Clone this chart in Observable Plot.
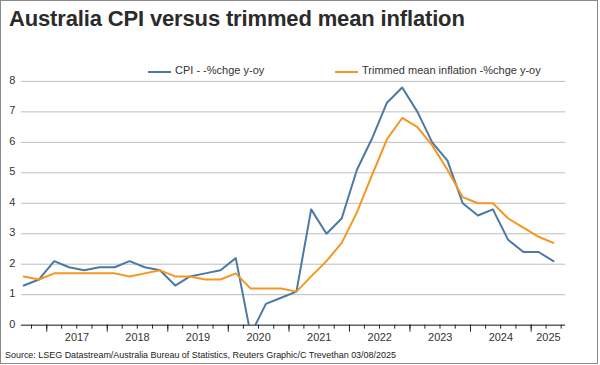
<!DOCTYPE html>
<html>
<head>
<meta charset="utf-8">
<script src="https://cdn.jsdelivr.net/npm/d3@7"></script>
<script src="https://cdn.jsdelivr.net/npm/@observablehq/plot@0.6"></script>
<style>
  html, body { margin: 0; padding: 0; background: #fff; }
  #wrap { position: relative; width: 598px; height: 364px; box-sizing: border-box; border: 1px solid #8a8a8a; background: #fff; overflow: hidden; font-family: "Liberation Sans", Arial, sans-serif; }
  #title { position: absolute; left: 8px; top: 5px; font-size: 22px; font-weight: bold; color: #2b2b2b; white-space: nowrap; letter-spacing: -0.15px; }
  .leg { position: absolute; top: 63px; font-size: 11px; color: #333; white-space: nowrap; }
  .leg .sw { position: absolute; top: 7px; width: 23px; height: 2px; }
  #source { position: absolute; left: 4px; top: 349px; font-size: 9px; color: #222; white-space: nowrap; letter-spacing: -0.03px; }
  #chart { position: absolute; left: -1px; top: 59px; }
</style>
</head>
<body>
<div id="wrap">
  <div id="title"></div>
  <div class="leg" id="leg1" style="left:147px"><span class="sw" style="left:0;background:#4a79a5"></span><span style="position:absolute;left:27px;" id="leg1t"></span></div>
  <div class="leg" id="leg2" style="left:334px"><span class="sw" style="left:0;background:#f5961f"></span><span style="position:absolute;left:27px;" id="leg2t"></span></div>
  <div id="chart"></div>
  <div id="source"></div>
</div>
<script>
const titleText = "Australia CPI versus trimmed mean inflation";
const seriesNames = ["CPI - -%chge y-oy", "Trimmed mean inflation -%chge y-oy"];
const sourceText = "Source: LSEG Datastream/Australia Bureau of Statistics, Reuters Graphic/C Trevethan 03/08/2025";

const quarters = ["2016Q3","2016Q4",
  "2017Q1","2017Q2","2017Q3","2017Q4",
  "2018Q1","2018Q2","2018Q3","2018Q4",
  "2019Q1","2019Q2","2019Q3","2019Q4",
  "2020Q1","2020Q2","2020Q3","2020Q4",
  "2021Q1","2021Q2","2021Q3","2021Q4",
  "2022Q1","2022Q2","2022Q3","2022Q4",
  "2023Q1","2023Q2","2023Q3","2023Q4",
  "2024Q1","2024Q2","2024Q3","2024Q4",
  "2025Q1","2025Q2"];
const cpi = [1.3,1.5, 2.1,1.9,1.8,1.9, 1.9,2.1,1.9,1.8, 1.3,1.6,1.7,1.8, 2.2,-0.3,0.7,0.9,
  1.1,3.8,3.0,3.5, 5.1,6.1,7.3,7.8, 7.0,6.0,5.4,4.0, 3.6,3.8,2.8,2.4, 2.4,2.1];
const trimmed = [1.6,1.5, 1.7,1.7,1.7,1.7, 1.7,1.6,1.7,1.8, 1.6,1.6,1.5,1.5, 1.7,1.2,1.2,1.2,
  1.1,1.6,2.1,2.7, 3.7,4.9,6.1,6.8, 6.5,5.9,5.1,4.2, 4.0,4.0,3.5,3.2, 2.9,2.7];
const yTicks = [0,1,2,3,4,5,6,7,8];
const yearLabels = [2017,2018,2019,2020,2021,2022,2023,2024,2025];
const xStart = new Date(Date.UTC(2016, 7, 1));
const xEnd = new Date(Date.UTC(2025, 6, 28));

// quarter -> date at middle of middle month
const qDate = q => new Date(Date.UTC(+q.slice(0,4), (+q.slice(5) - 1) * 3 + 1, 15));
const data = quarters.flatMap((q, i) => [
  {date: qDate(q), value: cpi[i], series: seriesNames[0]},
  {date: qDate(q), value: trimmed[i], series: seriesNames[1]}
]);
const quarterTicks = d3.utcMonth.every(3).range(xStart, xEnd);
const yearTicks = d3.utcYear.range(xStart, xEnd);
const yearMids = yearLabels.map(y => {
  const a = Math.max(+new Date(Date.UTC(y,0,1)), +xStart);
  const b = Math.min(+new Date(Date.UTC(y+1,0,1)), +xEnd);
  return new Date((a + b) / 2);
});

document.getElementById("title").textContent = titleText;
document.getElementById("leg1t").textContent = seriesNames[0];
document.getElementById("leg2t").textContent = seriesNames[1];
document.getElementById("source").textContent = sourceText;

const chart = Plot.plot({
  width: 600,
  height: 292,
  marginTop: 21,
  marginBottom: 26,
  marginLeft: 21,
  marginRight: 32,
  style: {fontFamily: "'Liberation Sans', Arial, sans-serif", fontSize: "11px", color: "#333", background: "transparent"},
  x: {type: "utc", domain: [xStart, xEnd], axis: null},
  y: {domain: [0, 8], axis: null},
  color: {domain: seriesNames, range: ["#4a79a5", "#f5961f"]},
  marks: [
    Plot.gridY(yTicks.filter(d => d > 0), {stroke: "#bdbdbd", strokeOpacity: 1, strokeWidth: 1}),
    Plot.axisY(yTicks, {tickSize: 0, tickPadding: 6, fontSize: 11, dy: -1, fill: "#333", label: null}),
    Plot.line(data, {x: "date", y: "value", z: "series", stroke: "series", strokeWidth: 2, clip: true}),
    Plot.ruleY([0], {stroke: "#111", strokeWidth: 1}),
    Plot.axisX(quarterTicks, {tickSize: 4, tickFormat: () => "", stroke: "#222", label: null}),
    Plot.axisX(yearTicks, {tickSize: 7, tickFormat: () => "", stroke: "#222", label: null}),
    Plot.axisX(yearMids, {tickSize: 0, tickPadding: 8, fontSize: 11, fill: "#333", label: null, tickFormat: d => String(yearLabels[yearMids.indexOf(d)])})
  ]
});
document.getElementById("chart").appendChild(chart);
</script>
</body>
</html>
